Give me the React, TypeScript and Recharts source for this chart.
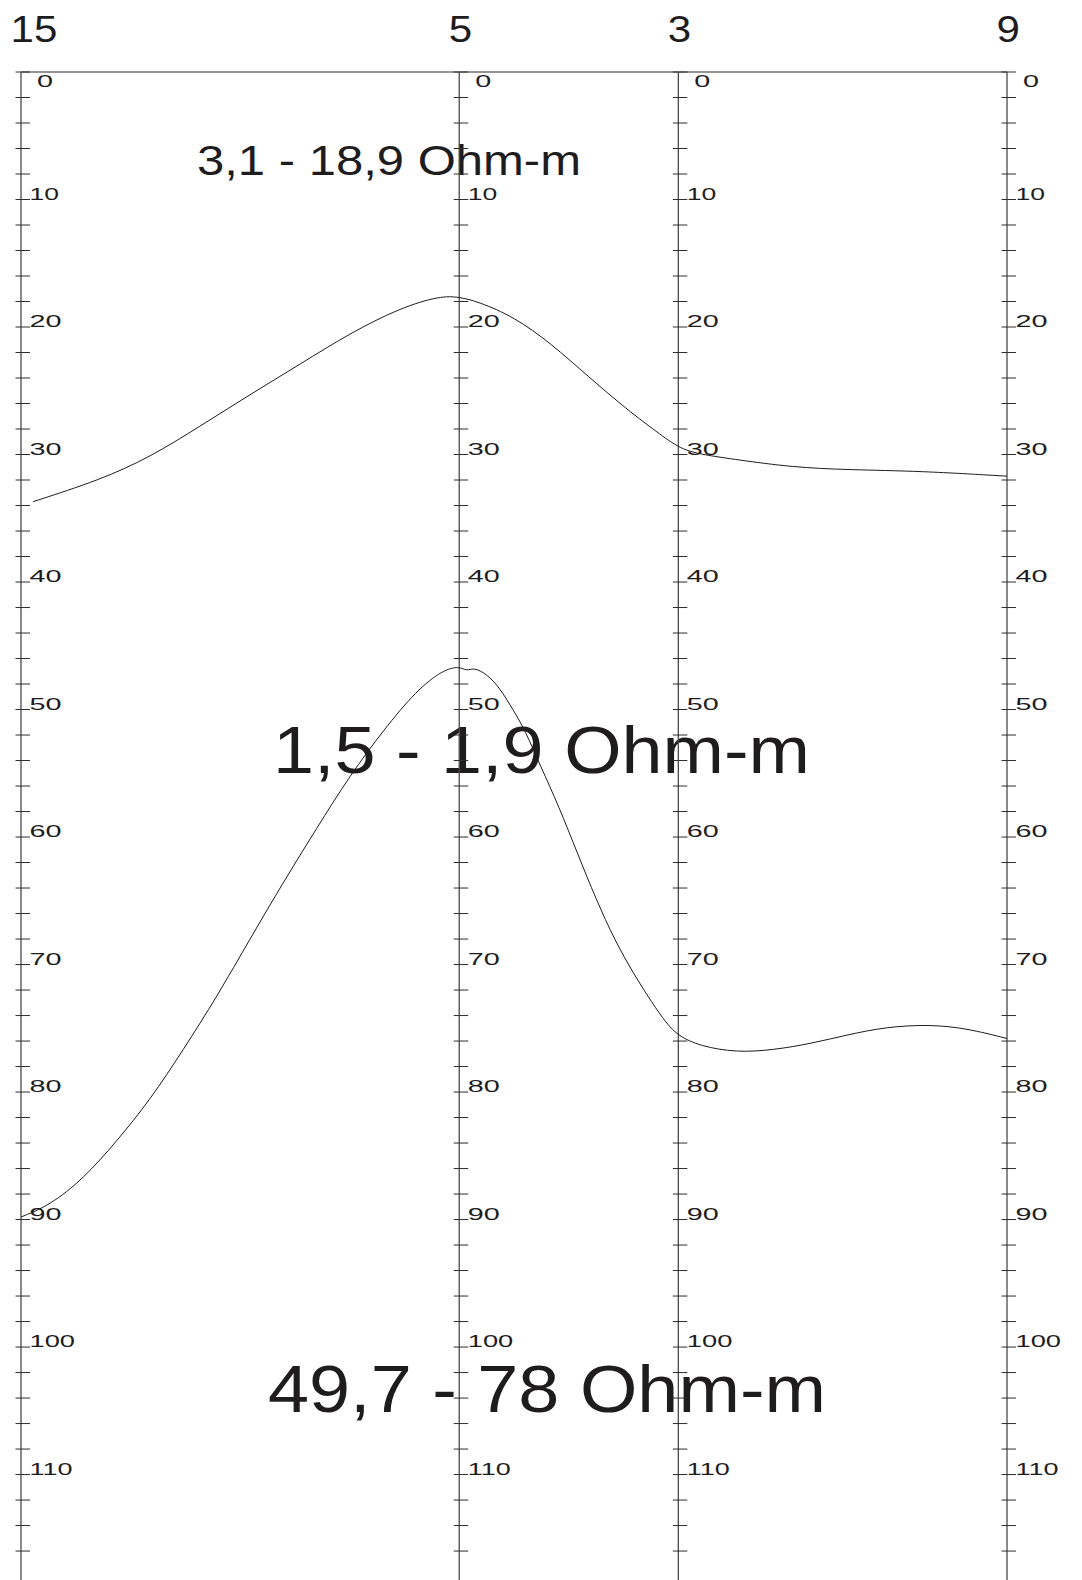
import React from 'react';
import { ComposedChart, Line, Scatter, XAxis, YAxis, ReferenceLine, Customized } from 'recharts';

// Stations along the profile (distance, arbitrary metres) and their labels
const stationDist = [0, 400, 600, 900];
const stationLabels = ['15', '5', '3', '9'];

// Depth ticks drawn on every station axis
const depthTicks = [
  0, 2, 4, 6, 8, 10, 12, 14, 16, 18, 20, 22, 24, 26, 28, 30, 32, 34, 36, 38,
  40, 42, 44, 46, 48, 50, 52, 54, 56, 58, 60, 62, 64, 66, 68, 70, 72, 74, 76, 78,
  80, 82, 84, 86, 88, 90, 92, 94, 96, 98, 100, 102, 104, 106, 108, 110, 112, 114, 116,
];

// Upper boundary (3,1 - 18,9 Ohm-m layer bottom)
const upperDist = [11, 72, 118, 163, 209, 255, 300, 346, 383, 400, 417, 450, 484, 518, 552, 586, 600, 610, 625, 653, 704, 755, 822, 900];
const upperDepth = [33.7, 32.0, 30.2, 27.8, 25.3, 22.9, 20.5, 18.5, 17.55, 17.65, 18.0, 19.2, 21.3, 23.9, 26.4, 28.6, 29.4, 29.75, 30.05, 30.4, 31.0, 31.2, 31.3, 31.7];

// Lower boundary (1,5 - 1,9 Ohm-m layer bottom)
const lowerDist = [0, 26, 57, 87, 118, 148, 179, 209, 239, 270, 300, 331, 361, 385, 400, 407, 413, 425, 437, 449, 460, 474, 491, 508, 525, 542, 559, 576, 589, 600, 620, 653, 687, 721, 755, 789, 829, 863, 900];
const lowerDepth = [89.8, 88.9, 86.8, 83.9, 80.6, 76.7, 72.5, 68.0, 63.6, 59.3, 55.2, 51.6, 48.5, 46.9, 46.6, 47.0, 46.7, 47.2, 48.3, 50.0, 51.6, 54.4, 57.6, 61.3, 64.9, 68.1, 70.7, 73.0, 74.6, 75.6, 76.4, 76.9, 76.7, 76.2, 75.5, 74.9, 74.7, 75.0, 75.8];

// Layer resistivity annotations
const layerTexts = ['3,1 - 18,9 Ohm-m', '1,5 - 1,9 Ohm-m', '49,7 - 78 Ohm-m'];

const upperData = upperDist.map((dist, i) => ({ dist, depth: upperDepth[i] }));
const lowerData = lowerDist.map((dist, i) => ({ dist, depth: lowerDepth[i] }));
const tickData = stationDist.flatMap((dist) => depthTicks.map((depth) => ({ dist, depth })));

const FONT = '"Liberation Sans", Arial, Helvetica, sans-serif';
const INK = '#1e1c1d';

const labelWidth = (s: string) => s.split('').reduce((w, c) => w + (c === '1' ? 13.5 : 16), 0);

function AxisTick(props: any) {
  const { cx, cy, payload } = props;
  if (cx == null || cy == null || !payload) return <g />;
  const d = payload.depth;
  const label = d % 10 === 0 ? String(d) : null;
  return (
    <g>
      <line x1={cx - 5.5} x2={cx + 9} y1={cy} y2={cy} stroke="#2e2e2e" strokeWidth={1} />
      {label !== null && (
        <text
          x={cx + (d === 0 ? 16 : 8.5)}
          y={cy + (d === 0 ? 15 : 0)}
          fontFamily={FONT}
          fontSize={16}
          fill={INK}
          textLength={labelWidth(label)}
          lengthAdjust="spacingAndGlyphs"
        >
          {label}
        </text>
      )}
    </g>
  );
}

function StationTick(props: any) {
  const { x, payload } = props;
  const i = stationDist.indexOf(payload.value);
  const label = stationLabels[i] ?? '';
  return (
    <text
      x={x - 10.5}
      y={41.5}
      fontFamily={FONT}
      fontSize={37}
      fill={INK}
      textLength={label.length * 23.4}
      lengthAdjust="spacingAndGlyphs"
    >
      {label}
    </text>
  );
}

const Annotations = () => (
  <g fontFamily={FONT} fill={INK}>
    <text x={197} y={175} fontSize={43} textLength={384} lengthAdjust="spacingAndGlyphs">
      {layerTexts[0]}
    </text>
    <text x={273} y={773} fontSize={66} textLength={537} lengthAdjust="spacingAndGlyphs">
      {layerTexts[1]}
    </text>
    <text x={268} y={1412} fontSize={66} textLength={558} lengthAdjust="spacingAndGlyphs">
      {layerTexts[2]}
    </text>
  </g>
);

export default function App() {
  return (
    <div style={{ position: 'absolute', left: 0, top: 0, width: 1082, height: 1580, background: '#fff' }}>
      <ComposedChart width={1082} height={1580} margin={{ top: 0, right: 75, bottom: 0, left: 21 }}>
        <XAxis
          type="number"
          dataKey="dist"
          domain={[0, 900]}
          ticks={stationDist}
          interval={0}
          orientation="top"
          height={72}
          tickLine={false}
          axisLine={{ stroke: '#707070', strokeWidth: 1.5 }}
          tick={<StationTick />}
        />
        <YAxis type="number" dataKey="depth" domain={[0, 118.27]} ticks={[0, 50, 100]} reversed hide />
        {stationDist.map((x) => (
          <ReferenceLine key={x} x={x} stroke="#4a4a4a" strokeWidth={1.3} />
        ))}
        <Scatter data={tickData} dataKey="depth" shape={AxisTick} isAnimationActive={false} />
        <Line
          data={upperData}
          dataKey="depth"
          type="basis"
          stroke={INK}
          strokeWidth={1}
          dot={false}
          activeDot={false}
          isAnimationActive={false}
        />
        <Line
          data={lowerData}
          dataKey="depth"
          type="basis"
          stroke={INK}
          strokeWidth={1}
          dot={false}
          activeDot={false}
          isAnimationActive={false}
        />
        <Customized component={Annotations} />
      </ComposedChart>
    </div>
  );
}
